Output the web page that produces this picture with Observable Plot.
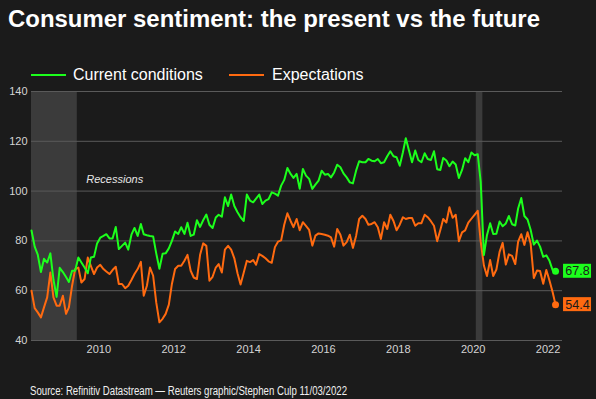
<!DOCTYPE html>
<html><head><meta charset="utf-8">
<script src="https://cdn.jsdelivr.net/npm/d3@7"></script>
<script src="https://cdn.jsdelivr.net/npm/@observablehq/plot@0.6"></script>
<style>
html,body{margin:0;padding:0;background:#1b1b1b;width:596px;height:399px;overflow:hidden;font-family:"Liberation Sans",Arial,sans-serif;}
#wrap{position:relative;width:596px;height:399px;}
#title{position:absolute;left:8px;top:6px;color:#fff;font-weight:bold;font-size:24px;line-height:26px;white-space:nowrap;transform-origin:0 0;}
.leg{position:absolute;top:66px;color:#fff;font-size:16px;line-height:18px;white-space:nowrap;}
.sw{position:absolute;top:74px;width:35px;height:2px;}
#chart{position:absolute;left:0;top:85px;}
#caption{position:absolute;left:30px;top:384px;color:#f0f0f0;font-size:12.5px;line-height:14px;white-space:nowrap;transform-origin:0 0;font-family:"Liberation Sans Narrow","Arial Narrow","Liberation Sans",Arial,sans-serif;}
</style>
</head><body><div id="wrap">
<div id="title">Consumer sentiment: the present vs the future</div>
<div class="sw" id="sw1" style="left:31px;"></div><div class="leg" id="lg1" style="left:73px;"></div>
<div class="sw" id="sw2" style="left:229px;"></div><div class="leg" id="lg2" style="left:272px;"></div>
<div id="chart"></div>
<div id="caption">Source: Refinitiv Datastream — Reuters graphic/Stephen Culp 11/03/2022</div>
</div>
<script>
// Series names and colours
const seriesNames = ["Current conditions", "Expectations"];
const seriesColors = ["#1cff1c", "#ff6a10"];

// Monthly values, March 2008 .. March 2022
const current = [
84.2, 77.7, 74.5, 67.5, 72.8, 71.3, 75.0, 64.5, 57.5, 69.2,
67.5, 65.5, 63.5, 68.0, 68.0, 73.3, 71.3, 69.3, 67.0, 73.3,
73.6, 79.0, 81.3, 82.0, 82.7, 81.0, 81.0, 85.6, 76.7, 78.0,
79.3, 76.5, 82.5, 85.2, 82.0, 86.8, 82.7, 82.3, 82.0, 81.8,
75.0, 68.8, 74.8, 75.0, 77.0, 80.0, 83.8, 82.8, 85.5, 82.8,
87.3, 82.0, 82.5, 88.3, 85.6, 88.3, 90.6, 86.5, 85.2, 89.4,
90.5, 89.7, 97.5, 94.0, 98.6, 94.0, 91.5, 89.5, 88.0, 98.6,
96.2, 95.5, 97.0, 98.6, 94.8, 96.2, 96.8, 99.5, 99.0, 98.2,
102.2, 104.5, 109.3, 106.9, 105.3, 106.9, 100.9, 108.9, 106.2, 104.9,
100.9, 102.6, 104.2, 108.2, 106.6, 106.9, 105.5, 107.5, 110.6, 109.6,
107.1, 105.5, 103.5, 103.1, 108.2, 112.0, 111.6, 111.6, 112.9, 112.2,
112.0, 112.9, 111.2, 111.6, 114.0, 116.0, 114.0, 113.6, 110.2, 115.6,
121.2, 116.3, 111.6, 116.3, 112.5, 111.6, 115.2, 112.9, 112.5, 116.0,
108.8, 108.5, 113.3, 112.3, 110.0, 111.9, 110.7, 105.3, 108.5, 113.2,
111.6, 115.5, 114.4, 114.8, 103.7, 74.3, 82.3, 87.1, 82.8, 82.9,
87.8, 85.9, 87.0, 90.0, 86.7, 86.2, 93.0, 97.2, 90.0, 88.6,
84.5, 78.5, 80.1, 77.7, 73.6, 74.2, 72.0, 68.2, 67.8
];
const expectations = [
60.0, 53.0, 51.3, 49.3, 53.3, 57.3, 67.3, 57.3, 54.0, 54.0,
58.0, 50.7, 53.3, 62.0, 68.7, 69.3, 63.3, 64.7, 73.3, 70.0,
66.7, 69.3, 70.4, 68.7, 67.7, 66.7, 68.3, 69.6, 62.7, 62.7,
61.0, 62.0, 64.3, 66.7, 68.7, 71.6, 58.0, 62.0, 69.3, 66.0,
55.3, 47.3, 48.7, 50.7, 54.4, 62.7, 68.7, 70.0, 70.0, 72.0,
74.4, 68.0, 65.3, 64.7, 74.4, 79.0, 78.0, 64.0, 65.6, 69.3,
70.7, 67.3, 76.5, 78.0, 76.5, 73.0, 67.0, 62.5, 67.3, 72.0,
71.5, 72.3, 70.4, 74.7, 74.0, 73.0, 71.8, 71.2, 77.5, 79.7,
80.2, 86.5, 91.1, 88.0, 85.5, 88.8, 84.3, 87.5, 86.0, 84.4,
78.1, 82.1, 83.0, 82.8, 82.5, 82.1, 81.4, 77.7, 84.8, 82.5,
78.1, 79.5, 82.5, 77.2, 82.0, 88.8, 90.1, 88.8, 86.5, 86.8,
87.5, 85.5, 80.8, 87.5, 84.8, 90.5, 88.0, 84.3, 86.5, 89.5,
88.8, 89.2, 89.2, 86.1, 87.1, 87.1, 90.5, 89.5, 87.9, 86.1,
79.9, 84.4, 88.8, 87.4, 93.5, 89.3, 90.5, 79.9, 83.4, 84.2,
87.3, 88.9, 90.5, 92.1, 79.7, 70.1, 65.9, 72.3, 65.9, 68.5,
75.6, 79.2, 70.5, 74.6, 74.0, 70.7, 79.7, 82.7, 78.4, 83.5,
79.0, 65.1, 68.1, 67.9, 62.8, 68.3, 64.1, 59.4, 54.4
];
const firstMonth = new Date(Date.UTC(2008, 2, 15));
const domainEnd = new Date(Date.UTC(2022, 4, 22));

// Recession periods
const recessionStarts = [new Date(Date.UTC(2008, 2, 15)), new Date(Date.UTC(2020, 1, 1))];
const recessionEnds = [new Date(Date.UTC(2009, 5, 5)), new Date(Date.UTC(2020, 3, 5))];
const recessionLabel = "Recessions";

// Tick labels
const yTicks = [40, 60, 80, 100, 120, 140];
const xTickYears = [2010, 2012, 2014, 2016, 2018, 2020, 2022];

// ---- build
const dates = current.map((_, i) => d3.utcMonth.offset(firstMonth, i));
const rows = dates.map((date, i) => ({date, current: current[i], expectations: expectations[i]}));
const last = rows[rows.length - 1];
const lastPts = [
  {date: last.date, v: last.current, c: seriesColors[0]},
  {date: last.date, v: last.expectations, c: seriesColors[1]}
];
const recessions = recessionStarts.map((s, i) => ({start: s, end: recessionEnds[i]}));
const xTicks = xTickYears.map(y => new Date(Date.UTC(y, 0, 1)));

document.getElementById("sw1").style.background = seriesColors[0];
document.getElementById("sw2").style.background = seriesColors[1];
document.getElementById("lg1").textContent = seriesNames[0];
document.getElementById("lg2").textContent = seriesNames[1];

const chart = Plot.plot({
  width: 596, height: 275,
  marginTop: 6, marginBottom: 20, marginLeft: 31, marginRight: 34,
  style: {background: "transparent", color: "#d4d4d4", fontSize: "11px", fontFamily: "'Liberation Sans', Arial, sans-serif", overflow: "visible"},
  x: {type: "utc", domain: [firstMonth, domainEnd]},
  y: {domain: [40, 140]},
  marks: [
    Plot.rect(recessions, {x1: "start", x2: "end", fill: "#ffffff", fillOpacity: 0.14}),
    Plot.gridY(yTicks, {stroke: "#5a5a5a", strokeOpacity: 1}),
    Plot.axisY(yTicks, {tickSize: 0, tickPadding: 4, label: null, fill: "#d4d4d4", fontSize: 11}),
    Plot.axisX(xTicks, {tickSize: 0, tickPadding: 5, tickFormat: "%Y", label: null, fill: "#d4d4d4", fontSize: 11}),
    Plot.text([recessions[0]], {x: "end", frameAnchor: "top", text: () => recessionLabel, textAnchor: "start", dx: 9, dy: 84, fill: "#e6e6e6", fontStyle: "italic", fontSize: 11}),
    Plot.lineY(rows, {x: "date", y: "expectations", stroke: seriesColors[1], strokeWidth: 2}),
    Plot.lineY(rows, {x: "date", y: "current", stroke: seriesColors[0], strokeWidth: 2}),
    Plot.dot(lastPts, {x: "date", y: "v", fill: "c", r: 3.5}),
    Plot.rect(lastPts, {x1: "date", x2: "date", y1: "v", y2: "v", fill: "c", insetLeft: 8, insetRight: -36, insetTop: -7, insetBottom: -7}),
    Plot.text(lastPts, {x: "date", y: "v", text: d => d.v.toFixed(1), dx: 22, fill: "#1b1b1b", fontSize: 12.5})
  ]
});
document.getElementById("chart").appendChild(chart);

// fit title and caption widths to reference
const ttl = document.getElementById("title");
ttl.style.transform = `scaleX(${532 / ttl.getBoundingClientRect().width})`;
const cap = document.getElementById("caption");
cap.style.transform = `scaleX(${317 / cap.getBoundingClientRect().width})`;
</script>
</body></html>
